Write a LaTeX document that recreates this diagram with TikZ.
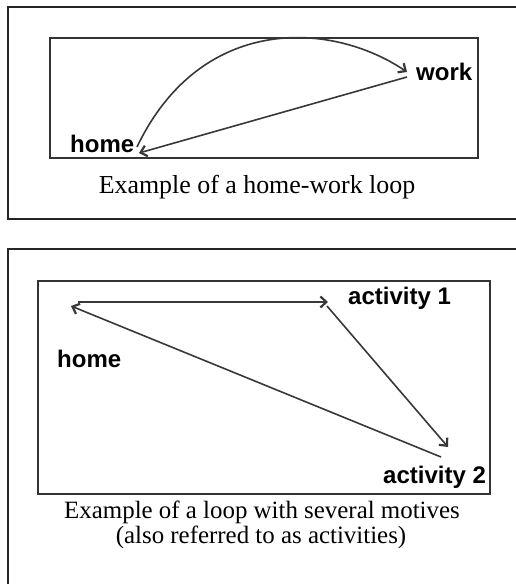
\documentclass[tikz,border=0pt]{standalone}
\usepackage{fontspec}
\setmainfont{Liberation Serif}
\newfontfamily\placefont{Liberation Sans}
\usetikzlibrary{arrows.meta, positioning}

\begin{document}
\begin{tikzpicture}[
	x=1pt, y=-1pt,
	frame/.style={draw=black!85, line width=1.8pt},
	box/.style={draw=black!80, line width=1.5pt, rectangle, inner sep=0pt},
	arrow/.style={-{Straight Barb[length=6pt,width=11pt,line width=2.2pt]}, line width=1.6pt, draw=black!78},
	curve/.style={line width=1.6pt, draw=black!78},
	place/.style={font=\placefont\bfseries\fontsize{24}{28}\selectfont, inner sep=0pt, anchor=base west},
	caption/.style={font=\fontsize{24.9}{25}\selectfont, inner sep=0pt, anchor=base}
	]
	\useasboundingbox (0,0) rectangle (515,584);
	
	% ======================
	% oben: home-work loop
	% ======================
	\draw[frame] (520,7) -- (8,7) -- (8,219) -- (520,219);
	
	\node[box, minimum width=428pt, minimum height=120pt] (B1) at (264,98) {};
	
	\node[place] (H1) at (70,152) {home};
	\node[place] (W1) at (416,80) {work};
	
	% Pfeilenden
	\coordinate (H1out) at (137,147);
	\coordinate (H1in) at (139,153);
	\coordinate (W1in) at (407,72);
	\coordinate (W1out) at (407,77);
	
	\draw[curve, arrow] (H1out) .. controls (200,15) and (330,20) .. (W1in);
	\draw[arrow] (W1out) -- (H1in);
	
	\node[caption, font=\fontsize{25.9}{26}\selectfont] (C1) at (257,193) {Example of a home-work loop};
	
	% ======================
	% unten: loop mit mehreren Aktivitaeten
	% ======================
	\draw[frame] (520,249) -- (8,249) -- (8,590);
	
	\node[box, minimum width=452pt, minimum height=213pt] (B2) at (264,387.5) {};
	
	\node[place] (H2) at (57,367) {home};
	\node[place] (A1) at (348,304) {activity 1};
	\node[place] (A2) at (383,483) {activity 2};
	
	% Pfeilenden
	\coordinate (H2out) at (78,302);
	\coordinate (H2in) at (71,306);
	\coordinate (A1in) at (328,302);
	\coordinate (A1out) at (327,306);
	\coordinate (A2in) at (448,447);
	\coordinate (A2out) at (441,457);
	
	\draw[arrow] (H2out) -- (A1in);
	\draw[arrow] (A1out) -- (A2in);
	\draw[arrow] (A2out) -- (H2in);
	
	\node[caption] (C2) at (262,518) {Example of a loop with several motives};
	\node[caption] (C3) at (261,543) {(also referred to as activities)};
	
\end{tikzpicture}
\end{document}
